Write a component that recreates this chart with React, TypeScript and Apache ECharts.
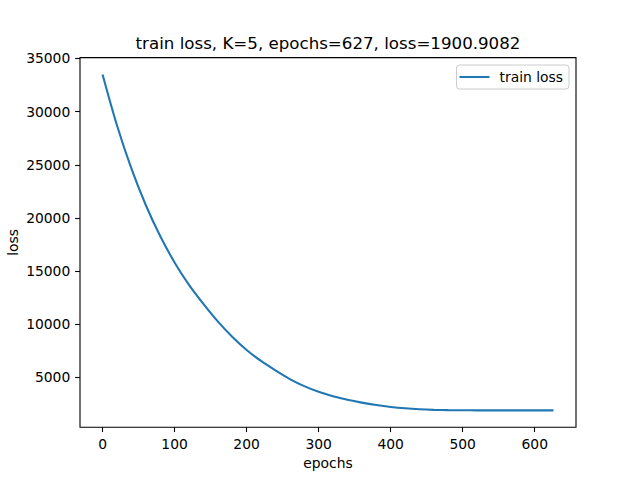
import React, { useEffect, useRef } from "react";
import * as echarts from "echarts";

const TITLE = "train loss, K=5, epochs=627, loss=1900.9082";
const SERIES_NAME = "train loss";
const X_NAME = "epochs";
const Y_NAME = "loss";

const epochs = [
  0, 20, 40, 60, 80, 100, 120, 140, 160, 180, 200, 220, 240, 260, 280, 300,
  320, 340, 360, 380, 400, 420, 440, 460, 480, 500, 520, 540, 560, 580, 600,
  626,
];
const lossValues = [
  33500, 28720, 24663, 21220, 18298, 15817, 13713, 11926, 10274, 8825, 7581,
  6552, 5670, 4850, 4187, 3646, 3233, 2897, 2631, 2410, 2229, 2095, 2007,
  1953, 1924, 1911, 1905, 1902.5, 1901.5, 1901.2, 1901.0, 1900.9,
];
const xTicks = [0, 100, 200, 300, 400, 500, 600];
const yTicks = [5000, 10000, 15000, 20000, 25000, 30000, 35000];

const FONT = "DejaVu Sans";
const PX = 100 / 72;

export default function App() {
  const ref = useRef<HTMLDivElement>(null);
  useEffect(() => {
    if (!ref.current) return;
    const chart = echarts.init(ref.current, undefined, { renderer: "svg" });
    const xMin = Math.min(...epochs);
    const xMax = Math.max(...epochs);
    const yMin = Math.min(...lossValues);
    const yMax = Math.max(...lossValues);
    const xPad = (xMax - xMin) * 0.05;
    const yPad = (yMax - yMin) * 0.05;
    const tickLen = 3.5 * PX;
    const labelMargin = 7 * PX;
    const fs = 10 * PX;
    const lineColor = "#1f77b4";
    chart.setOption({
      animation: false,
      backgroundColor: "#ffffff",
      textStyle: { fontFamily: FONT },
      title: {
        text: TITLE,
        left: 328,
        top: 35,
        padding: 0,
        textAlign: "center",
        textStyle: {
          fontFamily: FONT,
          fontSize: 12 * PX,
          fontWeight: "normal",
          color: "#000",
        },
      },
      legend: {
        right: 71,
        top: 65,
        orient: "vertical",
        padding: [5, 6, 5, 3],
        icon: "rect",
        itemWidth: 30,
        itemHeight: 1.5 * PX,
        itemStyle: { color: lineColor },
        borderColor: "#cccccc",
        borderWidth: 1,
        borderRadius: 3,
        backgroundColor: "rgba(255,255,255,0.8)",
        textStyle: {
          fontFamily: FONT,
          fontSize: fs,
          color: "#000",
          padding: [0, 0, 0, 5],
        },
        data: [SERIES_NAME],
      },
      grid: {
        left: 80,
        right: 64,
        top: 57.6,
        bottom: 52.8,
        show: true,
        borderColor: "#000",
        borderWidth: 1.1,
        backgroundColor: "transparent",
        containLabel: false,
        outerBoundsMode: "none",
      },
      xAxis: {
        type: "value",
        min: xMin - xPad,
        max: xMax + xPad,
        name: X_NAME,
        nameLocation: "middle",
        nameGap: 29,
        nameMoveOverlap: false,
        nameTextStyle: { fontFamily: FONT, fontSize: fs, color: "#000" },
        splitLine: { show: false },
        axisLine: { show: false, onZero: false },
        axisTick: {
          show: true,
          length: tickLen,
          inside: false,
          customValues: xTicks,
          lineStyle: { color: "#000", width: 1.1 },
        },
        axisLabel: {
          customValues: xTicks,
          margin: labelMargin,
          fontFamily: FONT,
          fontSize: fs,
          color: "#000",
          formatter: (v: number) => String(v),
        },
      },
      yAxis: {
        type: "value",
        min: yMin - yPad,
        max: yMax + yPad,
        name: Y_NAME,
        nameLocation: "middle",
        nameGap: 60,
        nameRotate: 90,
        nameMoveOverlap: false,
        nameTextStyle: { fontFamily: FONT, fontSize: fs, color: "#000" },
        splitLine: { show: false },
        axisLine: { show: false, onZero: false },
        axisTick: {
          show: true,
          length: tickLen,
          inside: false,
          customValues: yTicks,
          lineStyle: { color: "#000", width: 1.1 },
        },
        axisLabel: {
          customValues: yTicks,
          margin: labelMargin,
          fontFamily: FONT,
          fontSize: fs,
          color: "#000",
          formatter: (v: number) => String(v),
        },
      },
      series: [
        {
          name: SERIES_NAME,
          type: "line",
          data: epochs.map((e, i) => [e, lossValues[i]]),
          symbol: "none",
          showSymbol: false,
          smooth: 0.3,
          lineStyle: { color: lineColor, width: 1.5 * PX },
          itemStyle: { color: lineColor },
        },
      ],
    });
    return () => chart.dispose();
  }, []);
  return (
    <div
      ref={ref}
      style={{ position: "absolute", left: 0, top: 0, width: 640, height: 480 }}
    />
  );
}
